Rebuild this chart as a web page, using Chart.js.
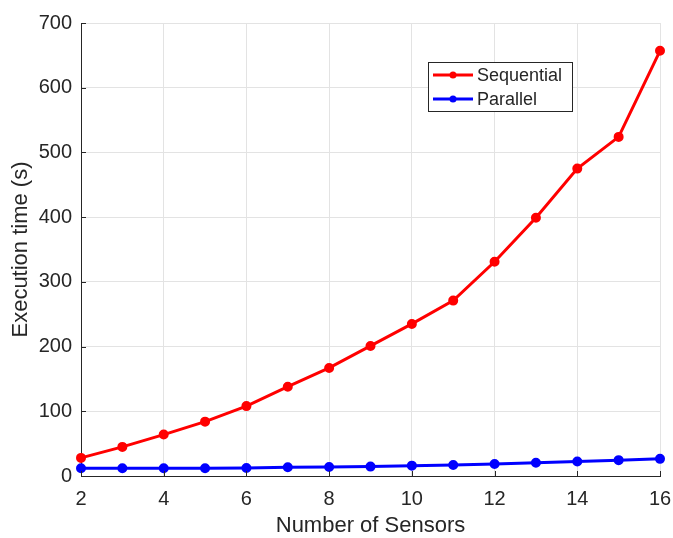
<!DOCTYPE html>
<html>
<head>
<meta charset="utf-8">
<script src="https://cdn.jsdelivr.net/npm/chart.js@4/dist/chart.umd.min.js"></script>
<style>
  html, body { margin: 0; padding: 0; background: #ffffff; }
  #wrap { width: 673px; height: 538px; }
</style>
</head>
<body>
<div id="wrap"><canvas id="timeChart" width="673" height="538"></canvas></div>
<script>
// Nombre de capteurs et temps d'exécution mesurés (s)
const sensors = [2, 3, 4, 5, 6, 7, 8, 9, 10, 11, 12, 13, 14, 15, 16];
const sequentialTimes = [28, 45, 64, 84, 108, 138, 167, 201, 235, 271, 331, 399, 475, 524, 657];
const parallelTimes = [12, 12, 12, 12, 12.5, 13.5, 14, 14.5, 16, 17, 18.5, 20.5, 22.5, 24.5, 26.5];
const xTicks = [2, 4, 6, 8, 10, 12, 14, 16];
const yTicks = [0, 100, 200, 300, 400, 500, 600, 700];
const seriesNames = ['Sequential', 'Parallel'];
const seriesColors = ['#ff0000', '#0000ff'];

const axisColor = '#262626';
const gridColor = '#e3e3e3';
const fontFamily = 'Helvetica, "Liberation Sans", Arial, sans-serif';

function toPoints(values) {
    return sensors.map((s, i) => ({ x: s, y: values[i] }));
}

// Petites graduations vers l'intérieur (style MATLAB)
const innerTicks = {
    id: 'innerTicks',
    afterDatasetsDraw(chart) {
        const { ctx, chartArea, scales } = chart;
        ctx.save();
        ctx.strokeStyle = axisColor;
        ctx.lineWidth = 1;
        ctx.beginPath();
        xTicks.forEach(v => {
            const px = Math.round(scales.x.getPixelForValue(v)) + 0.5;
            ctx.moveTo(px, chartArea.bottom);
            ctx.lineTo(px, chartArea.bottom - 5);
        });
        yTicks.forEach(v => {
            const py = Math.round(scales.y.getPixelForValue(v)) + 0.5;
            ctx.moveTo(chartArea.left, py);
            ctx.lineTo(chartArea.left + 5, py);
        });
        ctx.stroke();
        ctx.restore();
    }
};

// Légende encadrée dans la zone du graphique
const boxLegend = {
    id: 'boxLegend',
    afterDraw(chart) {
        const { ctx } = chart;
        const x0 = 428, y0 = 62, w = 144, h = 49;
        ctx.save();
        ctx.fillStyle = '#ffffff';
        ctx.fillRect(x0, y0, w, h);
        ctx.strokeStyle = axisColor;
        ctx.lineWidth = 1;
        ctx.strokeRect(x0 + 0.5, y0 + 0.5, w, h);
        ctx.font = '18px ' + fontFamily;
        ctx.textBaseline = 'middle';
        seriesNames.forEach((name, i) => {
            const cy = y0 + 13 + i * 24;
            ctx.strokeStyle = seriesColors[i];
            ctx.lineWidth = 3;
            ctx.beginPath();
            ctx.moveTo(x0 + 5, cy);
            ctx.lineTo(x0 + 45, cy);
            ctx.stroke();
            ctx.fillStyle = seriesColors[i];
            ctx.beginPath();
            ctx.arc(x0 + 25, cy, 3.5, 0, Math.PI * 2);
            ctx.fill();
            ctx.fillStyle = axisColor;
            ctx.fillText(name, x0 + 49, cy + 1);
        });
        ctx.restore();
    }
};

const ctx = document.getElementById('timeChart').getContext('2d');
new Chart(ctx, {
    type: 'line',
    data: {
        datasets: [
            {
                label: seriesNames[0],
                data: toPoints(sequentialTimes),
                borderColor: seriesColors[0],
                backgroundColor: seriesColors[0],
                borderWidth: 3,
                pointRadius: 3.5,
                pointHoverRadius: 3.5,
                tension: 0,
                clip: false
            },
            {
                label: seriesNames[1],
                data: toPoints(parallelTimes),
                borderColor: seriesColors[1],
                backgroundColor: seriesColors[1],
                borderWidth: 3,
                pointRadius: 3.5,
                pointHoverRadius: 3.5,
                tension: 0,
                clip: false
            }
        ]
    },
    options: {
        responsive: false,
        animation: false,
        layout: { padding: { top: 23, right: 13, left: 0, bottom: 0 } },
        plugins: {
            legend: { display: false },
            tooltip: { enabled: false }
        },
        scales: {
            x: {
                type: 'linear',
                min: 2,
                max: 16,
                afterFit(scale) {
                    scale.height = 62;
                    // pas de marge supplémentaire pour le dernier libellé
                    scale.paddingLeft = 0;
                    scale.paddingRight = 0;
                },
                afterBuildTicks(scale) { scale.ticks = xTicks.map(v => ({ value: v })); },
                grid: { color: gridColor, drawTicks: false, tickLength: 0 },
                border: { color: axisColor, width: 1 },
                ticks: {
                    color: axisColor,
                    padding: 11,
                    maxRotation: 0,
                    font: { family: fontFamily, size: 20 }
                },
                title: {
                    display: true,
                    text: 'Number of Sensors',
                    color: axisColor,
                    padding: { top: 0, bottom: 1 },
                    font: { family: fontFamily, size: 22, lineHeight: 1 }
                }
            },
            y: {
                min: 0,
                max: 700,
                afterFit(scale) { scale.width = 81; },
                afterBuildTicks(scale) { scale.ticks = yTicks.map(v => ({ value: v })); },
                grid: { color: gridColor, drawTicks: false, tickLength: 0 },
                border: { color: axisColor, width: 1 },
                ticks: {
                    color: axisColor,
                    padding: 9,
                    font: { family: fontFamily, size: 20 }
                },
                title: {
                    display: true,
                    text: 'Execution time (s)',
                    color: axisColor,
                    padding: { top: 10, bottom: 0 },
                    font: { family: fontFamily, size: 22, lineHeight: 1 }
                }
            }
        }
    },
    plugins: [innerTicks, boxLegend]
});
</script>
</body>
</html>
